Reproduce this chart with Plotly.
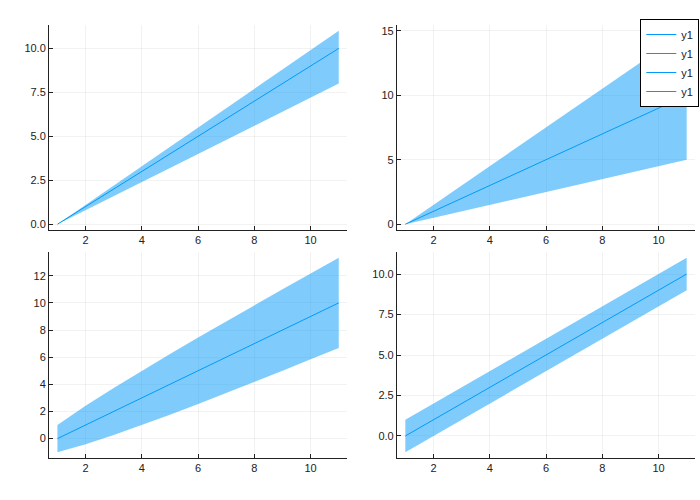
import plotly.graph_objects as go

# data: y = 0..10 plotted against index 1..11, with four kinds of ribbon
x = [1, 2, 3, 4, 5, 6, 7, 8, 9, 10, 11]
y = [0, 1, 2, 3, 4, 5, 6, 7, 8, 9, 10]

# (lower, upper) band edges for each subplot
low1 = [0, 0.8, 1.6, 2.4, 3.2, 4.0, 4.8, 5.6, 6.4, 7.2, 8.0]
up1 = [0, 1.1, 2.2, 3.3, 4.4, 5.5, 6.6, 7.7, 8.8, 9.9, 11.0]
low2 = [0, 0.5, 1.0, 1.5, 2.0, 2.5, 3.0, 3.5, 4.0, 4.5, 5.0]
up2 = [0, 1.5, 3.0, 4.5, 6.0, 7.5, 9.0, 10.5, 12.0, 13.5, 15.0]
low3 = [-1.0, -0.414, 0.268, 1.0, 1.764, 2.551, 3.354, 4.172, 5.0, 5.838, 6.683]
up3 = [1.0, 2.414, 3.732, 5.0, 6.236, 7.449, 8.646, 9.828, 11.0, 12.162, 13.317]
low4 = [-1, 0, 1, 2, 3, 4, 5, 6, 7, 8, 9]
up4 = [1, 2, 3, 4, 5, 6, 7, 8, 9, 10, 11]

lows = [low1, low2, low3, low4]
ups = [up1, up2, up3, up4]
names = ["y1", "y1", "y1", "y1"]
ytick_vals = [[0, 2.5, 5, 7.5, 10], [0, 5, 10, 15],
              [0, 2, 4, 6, 8, 10, 12], [0, 2.5, 5, 7.5, 10]]
ytick_fmt = [".1f", "d", "d", ".1f"]
xticks = [2, 4, 6, 8, 10]

line_col = "#009AFA"
fill_col = "rgba(0,154,250,0.5)"

fig = go.Figure()

# domains of the 2x2 grid (paper coords)
xdom = [[0.07, 0.496], [0.567, 0.993], [0.07, 0.496], [0.567, 0.993]]
ydom = [[0.54, 0.95], [0.54, 0.95], [0.084, 0.496], [0.084, 0.496]]

for i in range(4):
    xa = "x" if i == 0 else "x%d" % (i + 1)
    ya = "y" if i == 0 else "y%d" % (i + 1)
    fig.add_trace(go.Scatter(x=x, y=lows[i], mode="lines", line=dict(width=0),
                             showlegend=False, hoverinfo="none", xaxis=xa, yaxis=ya))
    fig.add_trace(go.Scatter(x=x, y=ups[i], mode="lines", line=dict(width=0),
                             fill="tonexty", fillcolor=fill_col,
                             showlegend=False, hoverinfo="none", xaxis=xa, yaxis=ya))
    fig.add_trace(go.Scatter(x=x, y=y, mode="lines", name=names[i],
                             line=dict(color=line_col, width=1),
                             xaxis=xa, yaxis=ya))

    lo = min(lows[i])
    hi = max(ups[i])
    pad = 0.03 * (hi - lo)
    common = dict(showline=True, linecolor="#222222", linewidth=1,
                  showgrid=True, gridcolor="rgba(0,0,0,0.05)", gridwidth=0.5,
                  zeroline=False, ticks="inside", ticklen=4, tickcolor="#222222",
                  tickfont=dict(size=11, color="#222222"))
    xkey = "xaxis" if i == 0 else "xaxis%d" % (i + 1)
    ykey = "yaxis" if i == 0 else "yaxis%d" % (i + 1)
    fig.update_layout({
        xkey: dict(common, domain=xdom[i], anchor=ya, range=[0.7, 11.3],
                   tickvals=xticks),
        ykey: dict(common, domain=ydom[i], anchor=xa, range=[lo - pad, hi + pad],
                   tickvals=ytick_vals[i], tickformat=ytick_fmt[i]),
    })

fig.update_layout(
    width=700, height=500,
    margin=dict(l=0, r=0, t=0, b=0),
    plot_bgcolor="white", paper_bgcolor="white",
    font=dict(family="Liberation Sans, Arial, sans-serif", size=11, color="#222222"),
    legend=dict(x=0.999, y=0.962, xanchor="right", yanchor="top",
                bordercolor="black", borderwidth=1, bgcolor="white",
                font=dict(size=11), tracegroupgap=0, itemwidth=30),
    showlegend=True,
)

# drop the default page margin so the 700x500 figure fills the window
fig.write_html("out.html", config={"displayModeBar": False},
               post_script="document.body.style.margin='0';")
